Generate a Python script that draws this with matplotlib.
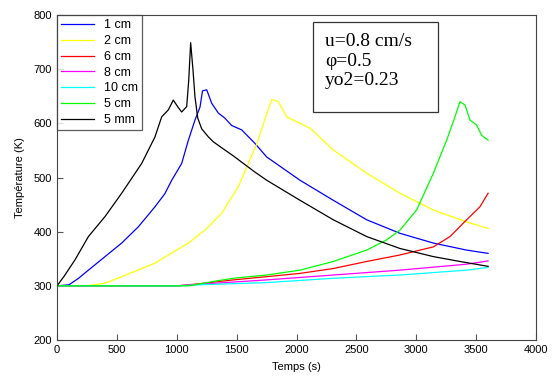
import matplotlib
matplotlib.use("Agg")
import matplotlib.pyplot as plt
from matplotlib.patches import Rectangle

# 1 cm
x_1cm = [0, 100, 180, 262, 401, 540, 679, 818, 900, 958, 1041, 1097, 1152, 1194, 1215, 1250, 1292, 1347, 1400, 1459, 1542, 1653, 1751, 2029, 2307, 2586, 2864, 3143, 3421, 3600]
y_1cm = [300, 302, 314, 329, 354, 379, 409, 446, 470, 495, 526, 569, 606, 630, 660, 662, 637, 619, 610, 596, 588, 563, 538, 495, 458, 422, 397, 379, 366, 360]
# 2 cm
x_2cm = [0, 250, 400, 540, 818, 1097, 1236, 1375, 1514, 1597, 1670, 1740, 1793, 1848, 1918, 2001, 2113, 2307, 2586, 2864, 3143, 3421, 3600]
y_2cm = [300, 300, 305, 317, 342, 379, 403, 434, 483, 526, 563, 610, 644, 640, 612, 603, 591, 551, 508, 471, 440, 418, 406]
# 6 cm
x_6cm = [0, 1000, 1194, 1472, 1751, 2029, 2307, 2586, 2864, 3143, 3282, 3421, 3532, 3600]
y_6cm = [300, 300, 304, 311, 317, 323, 332, 345, 357, 372, 391, 422, 446, 471]
# 8 cm
x_8cm = [0, 1000, 1194, 1751, 2307, 2864, 3421, 3600]
y_8cm = [300, 300, 303, 311, 320, 329, 340, 346]
# 10 cm
x_10cm = [0, 1000, 1194, 1751, 2307, 2864, 3421, 3600]
y_10cm = [300, 300, 302, 306, 314, 320, 329, 334]
# 5 cm
x_5cm = [0, 1100, 1300, 1472, 1751, 2029, 2307, 2586, 2753, 2864, 3003, 3143, 3254, 3320, 3365, 3407, 3449, 3504, 3546, 3600]
y_5cm = [300, 300, 308, 314, 320, 329, 345, 366, 385, 403, 440, 508, 569, 610, 640, 634, 606, 597, 578, 569]
# 5 mm
x_5mm = [0, 60, 150, 262, 401, 540, 707, 818, 874, 930, 971, 1010, 1041, 1083, 1100, 1116, 1135, 1152, 1175, 1208, 1264, 1305, 1375, 1472, 1653, 1751, 2029, 2307, 2586, 2864, 3143, 3365, 3600]
y_5mm = [300, 318, 348, 391, 428, 471, 526, 575, 612, 625, 643, 630, 621, 631, 680, 749, 700, 649, 610, 590, 575, 566, 555, 540, 510, 495, 458, 422, 391, 369, 354, 345, 336]

series = [
    (x_1cm, y_1cm, "1 cm", "#0000ff"),
    (x_2cm, y_2cm, "2 cm", "#ffff00"),
    (x_6cm, y_6cm, "6 cm", "#ff0000"),
    (x_8cm, y_8cm, "8 cm", "#ff00ff"),
    (x_10cm, y_10cm, "10 cm", "#00ffff"),
    (x_5cm, y_5cm, "5 cm", "#00ff00"),
    (x_5mm, y_5mm, "5 mm", "#000000"),
]

plt.rcParams['font.family'] = ['Liberation Sans', 'DejaVu Sans']
fig = plt.figure(figsize=(5.52, 3.76), dpi=100)
ax = fig.add_axes([0.1033, 0.0957, 0.8677, 0.8643])

for xs, ys, lab, col in series:
    ax.plot(xs, ys, color=col, lw=0.9, label=lab)

ax.set_xlim(0, 4000)
ax.set_ylim(200, 800)
ax.set_xticks(range(0, 4001, 500))
ax.set_yticks(range(200, 801, 100))
ax.tick_params(direction='in', labelsize=8, length=4, color='#555555')
for s in ax.spines.values():
    s.set_color('#444444')
ax.set_xlabel("Temps (s)", fontsize=8, labelpad=5)
ax.set_ylabel("Température (K)", fontsize=8, labelpad=6)

leg = ax.legend(loc='upper left', fontsize=9, frameon=True, fancybox=False,
                borderaxespad=0, handlelength=2.6, labelspacing=0.3,
                borderpad=0.35, handletextpad=0.8)
leg.get_frame().set_edgecolor('#333333')
leg.get_frame().set_linewidth(0.9)

# parameter box
ax.add_patch(Rectangle((0.5344, 0.7015), 0.261, 0.277, transform=ax.transAxes,
                       fc='white', ec='#333333', lw=0.9, zorder=5))
ax.text(0.5595, 0.945, "u=0.8 cm/s\nφ=0.5\nyo2=0.23", transform=ax.transAxes,
        family=['Liberation Serif', 'DejaVu Serif'], fontsize=14, va='top', ha='left',
        linespacing=1.2, zorder=6)

fig.savefig("out.png", dpi=100)
